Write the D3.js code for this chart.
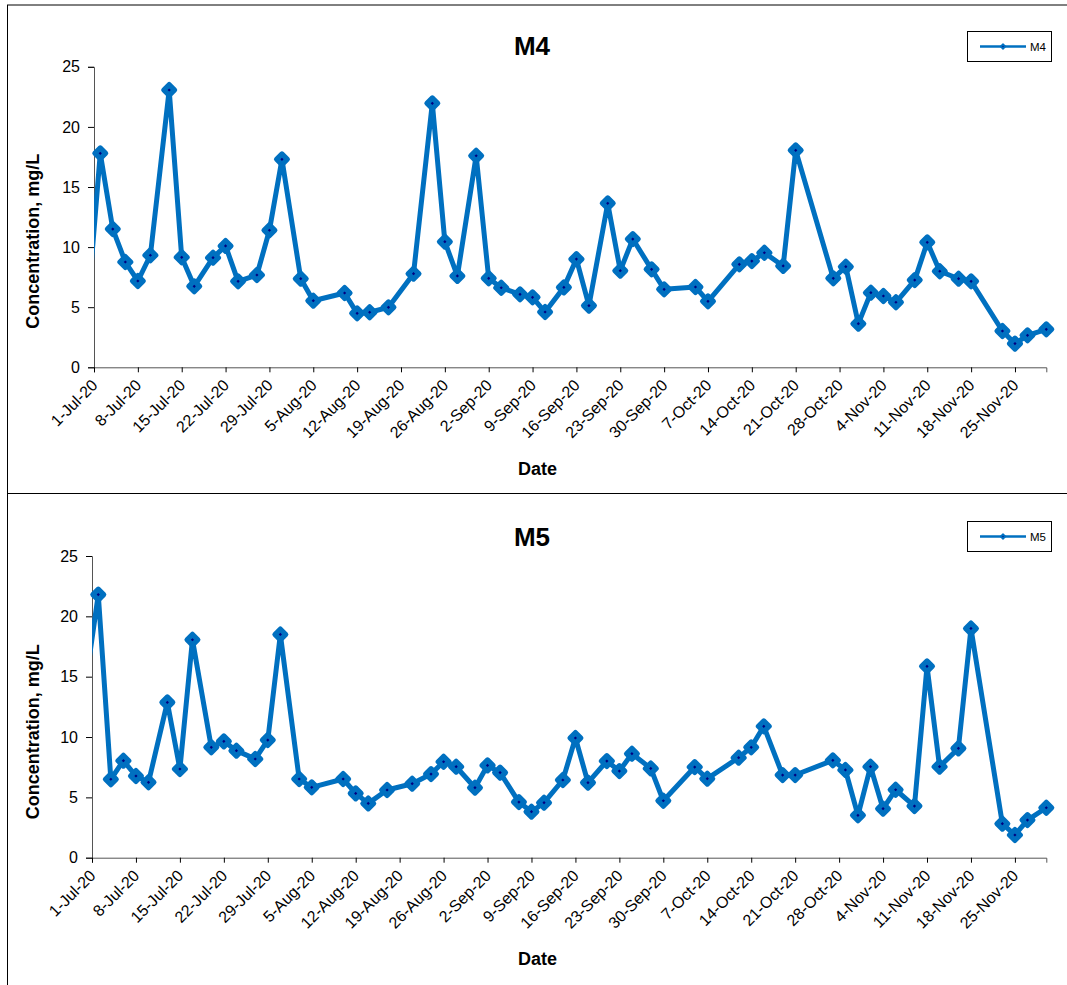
<!DOCTYPE html>
<html><head><meta charset="utf-8">
<script src="https://cdn.jsdelivr.net/npm/d3@7"></script>
<style>body{margin:0;background:#fff} svg{display:block}</style>
</head><body>
<svg id="c" width="1067" height="985"></svg>
<script>
// ---- data ----
const sampleDates = ["2020-06-30","2020-07-02","2020-07-04","2020-07-06","2020-07-08","2020-07-10","2020-07-13","2020-07-15","2020-07-17","2020-07-20","2020-07-22","2020-07-24","2020-07-27","2020-07-29","2020-07-31","2020-08-03","2020-08-05","2020-08-10","2020-08-12","2020-08-14","2020-08-17","2020-08-21","2020-08-24","2020-08-26","2020-08-28","2020-08-31","2020-09-02","2020-09-04","2020-09-07","2020-09-09","2020-09-11","2020-09-14","2020-09-16","2020-09-18","2020-09-21","2020-09-23","2020-09-25","2020-09-28","2020-09-30","2020-10-05","2020-10-07","2020-10-12","2020-10-14","2020-10-16","2020-10-19","2020-10-21","2020-10-27","2020-10-29","2020-10-31","2020-11-02","2020-11-04","2020-11-06","2020-11-09","2020-11-11","2020-11-13","2020-11-16","2020-11-18","2020-11-23","2020-11-25","2020-11-27","2020-11-30"];
const m4 = [5.0,17.8,11.5,8.76,7.18,9.32,23.07,9.15,6.74,9.12,10.1,7.15,7.68,11.4,17.3,7.37,5.54,6.18,4.49,4.58,4.99,7.79,21.96,10.45,7.6,17.6,7.4,6.62,6.07,5.82,4.6,6.65,9.0,5.13,13.64,8.04,10.67,8.15,6.49,6.68,5.49,8.57,8.84,9.53,8.43,18.05,7.4,8.37,3.63,6.21,5.93,5.41,7.26,10.4,7.99,7.37,7.15,3.02,1.97,2.66,3.16];
const m5 = [14.5,21.8,6.5,8.04,6.77,6.25,12.87,7.35,18.06,9.15,9.64,8.87,8.18,9.75,18.5,6.52,5.83,6.52,5.33,4.5,5.61,6.13,6.93,7.95,7.54,5.8,7.65,7.05,4.61,3.81,4.56,6.44,9.92,6.22,8.01,7.18,8.62,7.4,4.72,7.51,6.55,8.29,9.15,10.89,6.85,6.85,8.07,7.27,3.51,7.54,4.06,5.63,4.28,15.86,7.54,9.06,19.0,2.82,1.88,3.12,4.14];
const xTickDates = ["2020-07-01","2020-07-08","2020-07-15","2020-07-22","2020-07-29","2020-08-05","2020-08-12","2020-08-19","2020-08-26","2020-09-02","2020-09-09","2020-09-16","2020-09-23","2020-09-30","2020-10-07","2020-10-14","2020-10-21","2020-10-28","2020-11-04","2020-11-11","2020-11-18","2020-11-25"];
const yTicks = [0,5,10,15,20,25];
const xDomain = ["2020-07-01","2020-11-30"];
const seriesNames = ["M4","M5"];
const yTitle = "Concentration, mg/L";
const xTitle = "Date";

// ---- drawing ----
const parse = d3.timeParse("%Y-%m-%d");
const fmt = d3.timeFormat("%-d-%b-%y");
const FONT = "'Liberation Sans', Arial, sans-serif";
const BLUE = "#0070C0";
const svg = d3.select("#c");

// panel borders
svg.append("line").attr("x1",7).attr("x2",1067).attr("y1",5).attr("y2",5).attr("stroke","#000").attr("stroke-width",1);
svg.append("line").attr("x1",7.5).attr("x2",7.5).attr("y1",5).attr("y2",985).attr("stroke","#000").attr("stroke-width",1);
svg.append("line").attr("x1",7).attr("x2",1067).attr("y1",493.5).attr("y2",493.5).attr("stroke","#000").attr("stroke-width",1);

const panels = [
  {name: seriesNames[0], values: m4, x0: 94, x1: 1046.3, yTop: 66.8, yBot: 367.3},
  {name: seriesNames[1], values: m5, x0: 92, x1: 1046.3, yTop: 556, yBot: 857.7}
];

const diamond = (s) => `M0,${-s}L${s},0L0,${s}L${-s},0Z`;

panels.forEach((p, i) => {
  const g = svg.append("g");
  const x = d3.scaleTime().domain(xDomain.map(parse)).range([p.x0, p.x1]);
  const y = d3.scaleLinear().domain([0,25]).range([p.yBot, p.yTop]);
  const data = sampleDates.map((d, k) => ({date: parse(d), v: p.values[k]}));

  // y axis
  const ya = g.append("g").attr("transform", `translate(${p.x0},0)`)
    .call(d3.axisLeft(y).tickValues(yTicks).tickSize(6).tickPadding(8));
  ya.select(".domain").attr("stroke","#555");
  ya.selectAll(".tick line").attr("stroke","#000");
  ya.selectAll("text").attr("font-family",FONT).attr("font-size",16).attr("fill","#000");

  // x axis
  const xa = g.append("g").attr("transform", `translate(0,${p.yBot})`)
    .call(d3.axisBottom(x).tickValues(xTickDates.map(parse)).tickSize(5).tickFormat(fmt));
  xa.select(".domain").attr("stroke","#555");
  xa.selectAll(".tick line").attr("stroke","#000");
  xa.selectAll("text")
    .attr("font-family",FONT).attr("font-size",16).attr("fill","#000")
    .attr("text-anchor","end")
    .attr("dy","0.35em")
    .attr("y",0)
    .attr("transform","translate(0,15) rotate(-45)");

  // clip
  const cid = "clip"+i;
  svg.append("clipPath").attr("id",cid).append("rect")
    .attr("x",p.x0).attr("y",0).attr("width",1067-p.x0).attr("height",985);

  const line = d3.line().x(d => x(d.date)).y(d => y(d.v));
  g.append("path").datum(data).attr("d",line).attr("clip-path",`url(#${cid})`)
    .attr("fill","none").attr("stroke",BLUE).attr("stroke-width",5)
    .attr("stroke-linejoin","round");

  const vis = data.filter(d => d.date >= x.domain()[0]);
  const mk = g.append("g").selectAll("g").data(vis).join("g")
    .attr("transform", d => `translate(${x(d.date)},${y(d.v)})`);
  mk.append("path").attr("d",diamond(5.5)).attr("fill",BLUE).attr("stroke",BLUE)
    .attr("stroke-width",5).attr("stroke-linejoin","round");
  mk.append("path").attr("d",diamond(1.6)).attr("fill","#000080");

  // titles
  g.append("text").attr("x",532).attr("y",p.yBot-312).attr("text-anchor","middle")
    .attr("font-family",FONT).attr("font-weight","bold").attr("font-size",26).text(p.name);
  g.append("text").attr("x",537.5).attr("y",p.yBot+107.7).attr("text-anchor","middle")
    .attr("font-family",FONT).attr("font-weight","bold").attr("font-size",18).text(xTitle);
  g.append("text").attr("transform",`translate(38.5,${p.yBot-126}) rotate(-90)`)
    .attr("text-anchor","middle")
    .attr("font-family",FONT).attr("font-weight","bold").attr("font-size",18).text(yTitle);

  // legend
  const ly = p.yBot - 336.3;
  const lg = g.append("g");
  lg.append("rect").attr("x",967.5).attr("y",Math.round(ly)+0.5).attr("width",84).attr("height",30)
    .attr("fill","#fff").attr("stroke","#000").attr("stroke-width",1);
  const lcy = Math.round(ly)+15.5;
  lg.append("line").attr("x1",980).attr("x2",1026).attr("y1",lcy).attr("y2",lcy)
    .attr("stroke",BLUE).attr("stroke-width",2.5);
  lg.append("path").attr("transform",`translate(1003,${lcy})`).attr("d",diamond(2.5))
    .attr("fill",BLUE).attr("stroke",BLUE).attr("stroke-width",1.5).attr("stroke-linejoin","round");
  lg.append("path").attr("transform",`translate(1003,${lcy})`).attr("d",diamond(0.8)).attr("fill","#000080");
  lg.append("text").attr("x",1030).attr("y",lcy+4).attr("font-family",FONT).attr("font-size",11.5)
    .attr("fill","#000").text(p.name);
});
</script>
</body></html>
